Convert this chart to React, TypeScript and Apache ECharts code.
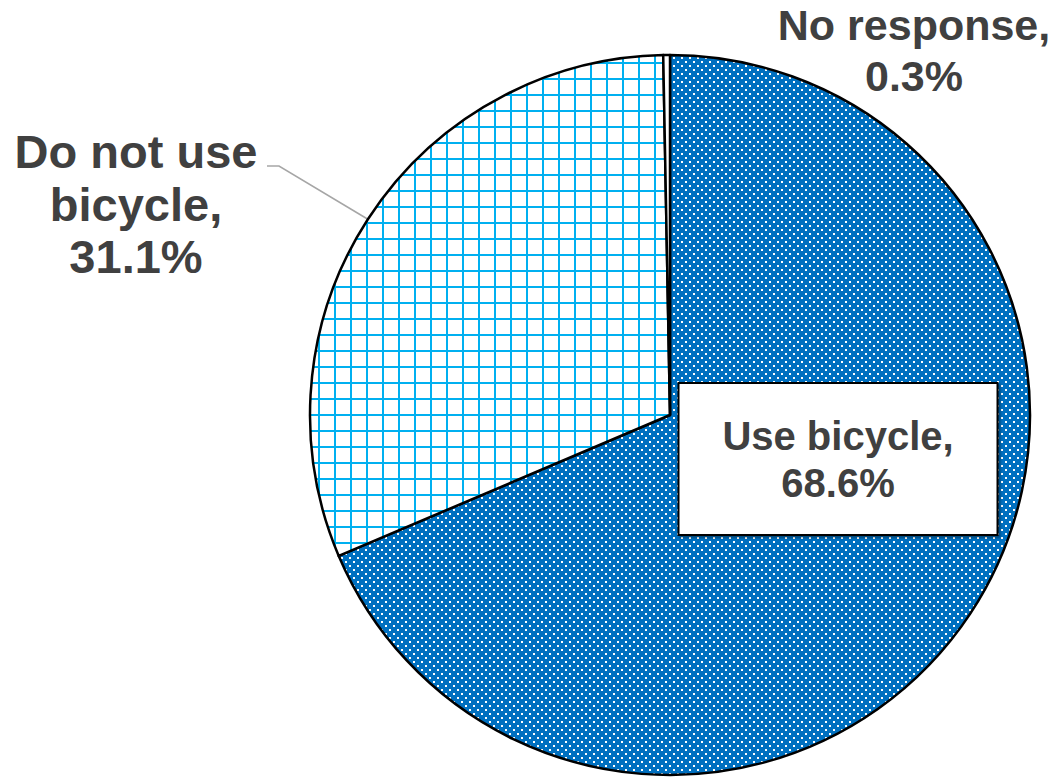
import React, { useEffect, useRef } from 'react';
import * as echarts from 'echarts';

const categories = ['Use bicycle', 'Do not use\nbicycle', 'No response'];
const values = [68.6, 31.1, 0.3];

const FONT = '"Liberation Sans", Arial, Helvetica, sans-serif';

function makeDots() {
  const c = document.createElement('canvas');
  c.width = 8;
  c.height = 8;
  const g = c.getContext('2d')!;
  g.fillStyle = '#0070C0';
  g.fillRect(0, 0, 8, 8);
  g.fillStyle = '#ffffff';
  g.fillRect(1, 1, 2, 2);
  g.fillRect(5, 5, 2, 2);
  return { image: c.toDataURL(), repeat: 'repeat', imageWidth: 8, imageHeight: 8 };
}

function makeGrid() {
  const c = document.createElement('canvas');
  c.width = 16;
  c.height = 16;
  const g = c.getContext('2d')!;
  g.fillStyle = '#ffffff';
  g.fillRect(0, 0, 16, 16);
  g.fillStyle = '#00B0F0';
  g.fillRect(14, 0, 2, 16);
  g.fillRect(0, 14, 16, 2);
  return { image: c.toDataURL(), repeat: 'repeat', imageWidth: 16, imageHeight: 16 };
}

export default function App() {
  const ref = useRef<HTMLDivElement>(null);
  useEffect(() => {
    if (!ref.current) return;
    const chart = echarts.init(ref.current, undefined, { renderer: 'svg' });
    const fills: any[] = [makeDots(), makeGrid(), '#ffffff'];
    const labelCfg: any[] = [
      {
        position: 'inside',
        fontSize: 40,
        lineHeight: 47,
        backgroundColor: '#ffffff',
        borderColor: '#000000',
        borderWidth: 2,
        width: 317,
        padding: [28, 0],
        shadowColor: 'rgba(0,0,0,0.35)',
        shadowOffsetX: 2,
        shadowOffsetY: 2,
        shadowBlur: 2,
      },
      { position: 'outside', fontSize: 47, lineHeight: 52.5 },
      { position: 'outside', fontSize: 43, lineHeight: 51 },
    ];
    const labelCenters = [
      [838, 459],
      [136, 204],
      [914, 50],
    ];
    chart.setOption({
      animation: false,
      backgroundColor: '#ffffff',
      series: [
        {
          type: 'pie',
          center: [670, 415],
          radius: 360,
          startAngle: 90,
          clockwise: true,
          avoidLabelOverlap: false,
          itemStyle: { borderColor: '#000000', borderWidth: 2.5 },
          emphasis: { disabled: true },
          label: {
            color: '#404040',
            fontWeight: 'bold',
            fontFamily: FONT,
            align: 'center',
            formatter: (p: any) => `${p.name},\n${Number(p.value).toFixed(1)}%`,
          },
          labelLine: { show: false },
          labelLayout: (params: any) => {
            const i = params.dataIndex;
            const [x, y] = labelCenters[i];
            const res: any = { x, y, align: 'center', verticalAlign: 'middle' };
            if (i === 1) {
              const p0 = params.labelLinePoints && params.labelLinePoints[0]
                ? params.labelLinePoints[0]
                : [368, 219];
              res.labelLinePoints = [p0, [279, 166], [267, 166]];
            }
            return res;
          },
          data: categories.map((name, i) => ({
            name,
            value: values[i],
            itemStyle: { color: fills[i] },
            label: { show: true, ...labelCfg[i] },
            labelLine: i === 1
              ? { show: true, length: 20, length2: 12, lineStyle: { color: '#A6A6A6', width: 1.5 } }
              : { show: false },
          })),
        },
      ],
    });
    return () => chart.dispose();
  }, []);
  return (
    <div
      ref={ref}
      style={{ position: 'fixed', left: 0, top: 0, width: 1051, height: 778, background: '#fff' }}
    />
  );
}
